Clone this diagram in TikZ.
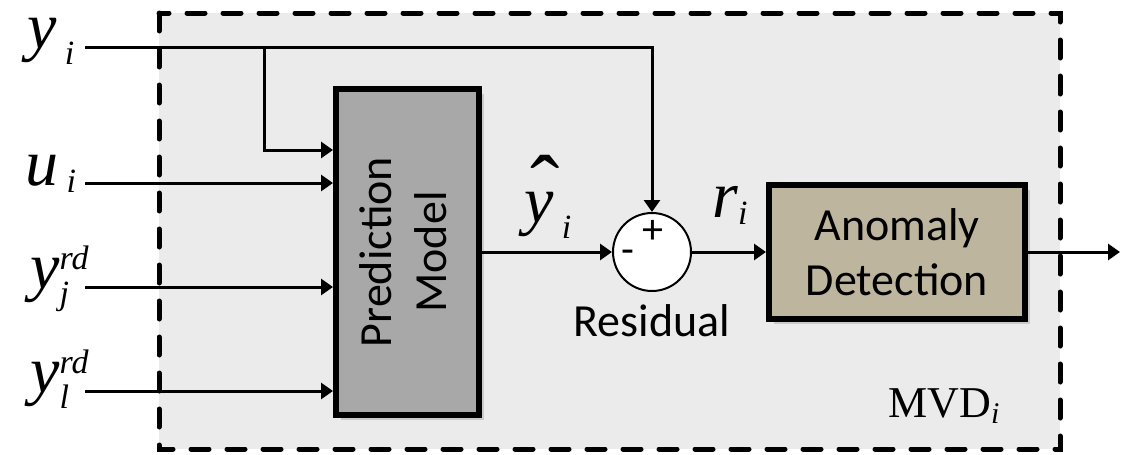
\documentclass[tikz,border=0pt]{standalone}
\usepackage{fontspec}
\setmainfont{Liberation Serif}
\newfontfamily\calib{Carlito}
\usetikzlibrary{arrows.meta,positioning,shadows}
\definecolor{frameC}{HTML}{EBEBEB}
\definecolor{predC}{HTML}{A8A8A8}
\definecolor{anomC}{HTML}{BDB59E}
\tikzset{
  frame/.style={draw=black, line width=2.5pt, dash pattern=on 9pt off 9pt, line cap=round, fill=frameC},
  blk/.style={draw=black, line width=3pt, align=center, inner sep=0pt,
    drop shadow={opacity=0.3, shadow xshift=2.5pt, shadow yshift=-2.5pt},
    font=\calib\fontsize{23}{27.5}\selectfont},
  sumC/.style={circle, draw=black, line width=1pt, fill=white, minimum size=39pt, inner sep=0pt},
  sig/.style={line width=1.5pt},
  sigA/.style={sig, -{Triangle[length=6pt, width=8pt]}},
  mlab/.style={anchor=base west, inner sep=0pt, font=\fontsize{33}{40}\selectfont},
  wlab/.style={inner sep=0pt, font=\calib\fontsize{23}{27}\selectfont},
  sgn/.style={inner sep=0pt, font=\calib\fontsize{21}{21}\selectfont},
}
\newcommand{\mv}[1]{\mbox{\itshape #1}}
\newcommand{\sml}[1]{\mbox{\fontsize{17}{17}\selectfont\itshape #1}}
\newcommand{\hatmark}{\rlap{\raisebox{3pt}{\hspace{3pt}\fontsize{44}{44}\selectfont\char"02C6}}}

\begin{document}
\begin{tikzpicture}[x=0.5pt, y=-0.5pt]
  \useasboundingbox (0,0) rectangle (1125,455);
  \draw[frame] (159,13) rectangle (1060,449);
  % blocks
  \node[blk, fill=predC, minimum width=71.5pt, minimum height=163pt] (pm) at (407.5,252)
    {\rotatebox{90}{\begin{tabular}{@{}c@{}}Prediction\\Model\end{tabular}}};
  \node[sumC] (sum) at (652,252) {};
  \node[blk, fill=anomC, minimum width=128pt, minimum height=67pt] (ad) at (897,252) {Anomaly\\Detection};
  \node[sgn] (plus) at ([shift={(1,-20)}]sum.center) {+};
  \node[sgn] (minus) at ([shift={(-24,5)}]sum.center) {-};
  \node[wlab, below=6pt of sum] (res) {Residual};
  % labels
  \node[mlab] (yi) at (27,48) {$\mv{y}_{\,\sml i}$};
  \node[mlab] (ui) at (25,185) {$\mv{u}_{\,\sml i}$};
  \node[mlab] (yj) at (30,288) {$\mv{y}_{\sml j}^{\sml{rd}}$};
  \node[mlab] (yl) at (30,392) {$\mv{y}_{\sml l}^{\sml{rd}}$};
  \node[mlab] (yh) at (524,222) {$\hatmark\mv{y}_{\,\sml i}$};
  \node[mlab] (ri) at (712,217) {$\mv{r}_{\sml i}$};
  \node[anchor=base west, inner sep=0pt, font=\fontsize{22}{22}\selectfont] (mvd) at (888,417)
    {MVD$_{\mbox{\fontsize{15}{15}\selectfont\itshape i}}$};
  % signals
  \coordinate (in1) at (85,47);
  \coordinate (in2) at (85,183);
  \coordinate (in3) at (85,287);
  \coordinate (in4) at (85,391);
  \coordinate (br) at (264,47);
  \coordinate (out) at (1120,252);
  \draw[sigA] (in1) -| (sum.north);
  \draw[sigA] (br) |- (pm.west |- 0,150);
  \foreach \k in {2,3,4} \draw[sigA] (in\k) -- (pm.west |- in\k);
  \draw[sigA] (pm) -- (sum);
  \draw[sigA] (sum) -- (ad);
  \draw[sigA] (ad) -- (out);
\end{tikzpicture}
\end{document}
